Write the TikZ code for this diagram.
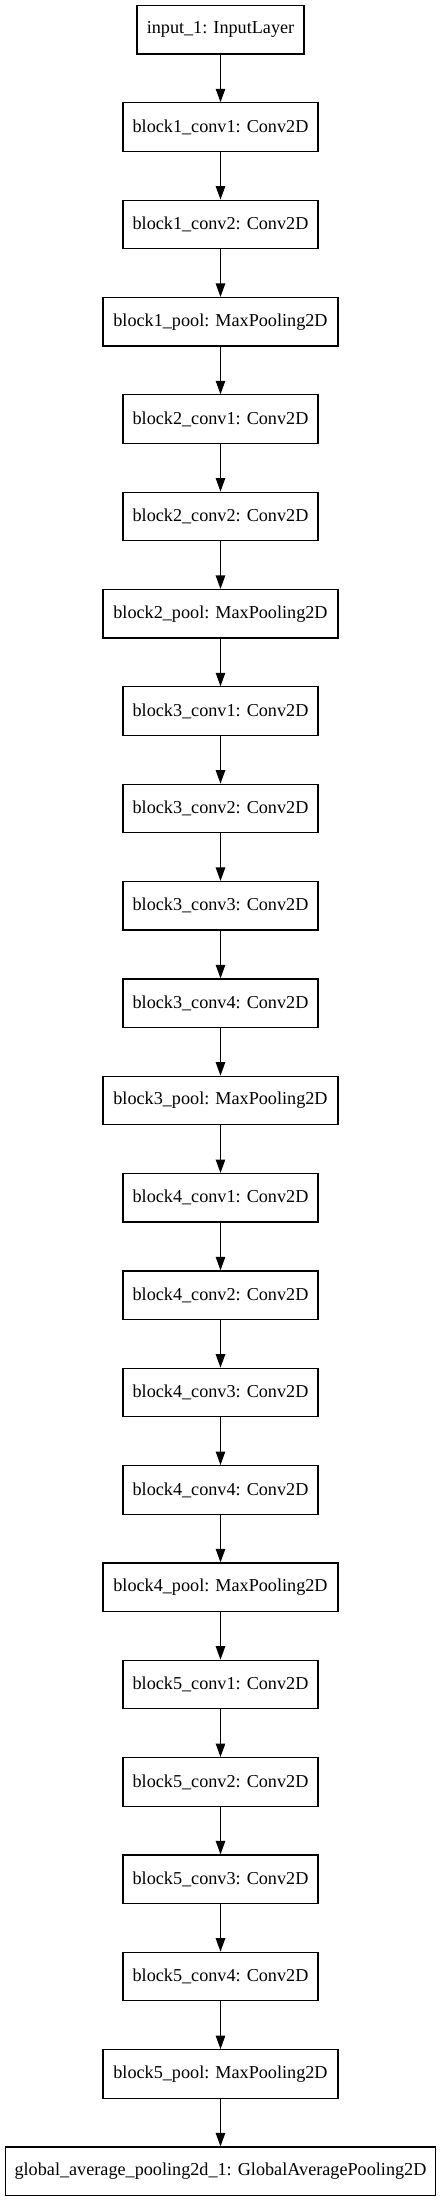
\documentclass[tikz,border=0pt]{standalone}
\usepackage{fontspec}
\setmainfont{Liberation Serif}
\usetikzlibrary{arrows.meta}
\begin{document}
\begin{tikzpicture}[x=0.7423pt,y=-0.7423pt,
  layer/.style={draw, line width=0.9pt, minimum height=36pt, inner sep=0pt,
    font=\fontsize{13.5}{16}\selectfont},
  inp/.style={layer, minimum width=124pt},
  conv/.style={layer, minimum width=144.7pt},
  pool/.style={layer, minimum width=174.4pt},
  gap/.style={layer, minimum width=319.2pt},
  link/.style={-{Triangle[length=10pt,width=7pt]}, line width=0.9pt}]
\useasboundingbox (0,0) rectangle (441,2201);
\node[inp]  (n0)  at (220.5,{29.75+0*97.34})  {input\_1: InputLayer};
\node[conv] (n1)  at (220.5,{29.75+1*97.34})  {block1\_conv1: Conv2D};
\node[conv] (n2)  at (220.5,{29.75+2*97.34})  {block1\_conv2: Conv2D};
\node[pool] (n3)  at (220.5,{29.75+3*97.34})  {block1\_pool: MaxPooling2D};
\node[conv] (n4)  at (220.5,{29.75+4*97.34})  {block2\_conv1: Conv2D};
\node[conv] (n5)  at (220.5,{29.75+5*97.34})  {block2\_conv2: Conv2D};
\node[pool] (n6)  at (220.5,{29.75+6*97.34})  {block2\_pool: MaxPooling2D};
\node[conv] (n7)  at (220.5,{29.75+7*97.34})  {block3\_conv1: Conv2D};
\node[conv] (n8)  at (220.5,{29.75+8*97.34})  {block3\_conv2: Conv2D};
\node[conv] (n9)  at (220.5,{29.75+9*97.34})  {block3\_conv3: Conv2D};
\node[conv] (n10) at (220.5,{29.75+10*97.34}) {block3\_conv4: Conv2D};
\node[pool] (n11) at (220.5,{29.75+11*97.34}) {block3\_pool: MaxPooling2D};
\node[conv] (n12) at (220.5,{29.75+12*97.34}) {block4\_conv1: Conv2D};
\node[conv] (n13) at (220.5,{29.75+13*97.34}) {block4\_conv2: Conv2D};
\node[conv] (n14) at (220.5,{29.75+14*97.34}) {block4\_conv3: Conv2D};
\node[conv] (n15) at (220.5,{29.75+15*97.34}) {block4\_conv4: Conv2D};
\node[pool] (n16) at (220.5,{29.75+16*97.34}) {block4\_pool: MaxPooling2D};
\node[conv] (n17) at (220.5,{29.75+17*97.34}) {block5\_conv1: Conv2D};
\node[conv] (n18) at (220.5,{29.75+18*97.34}) {block5\_conv2: Conv2D};
\node[conv] (n19) at (220.5,{29.75+19*97.34}) {block5\_conv3: Conv2D};
\node[conv] (n20) at (220.5,{29.75+20*97.34}) {block5\_conv4: Conv2D};
\node[pool] (n21) at (220.5,{29.75+21*97.34}) {block5\_pool: MaxPooling2D};
\node[gap]  (n22) at (220.5,{29.75+22*97.34}) {global\_average\_pooling2d\_1: GlobalAveragePooling2D};
\foreach \a/\b in {n0/n1,n1/n2,n2/n3,n3/n4,n4/n5,n5/n6,n6/n7,n7/n8,n8/n9,n9/n10,n10/n11,n11/n12,n12/n13,n13/n14,n14/n15,n15/n16,n16/n17,n17/n18,n18/n19,n19/n20,n20/n21,n21/n22}
  \draw[link] (\a) -- (\b);
\end{tikzpicture}
\end{document}
